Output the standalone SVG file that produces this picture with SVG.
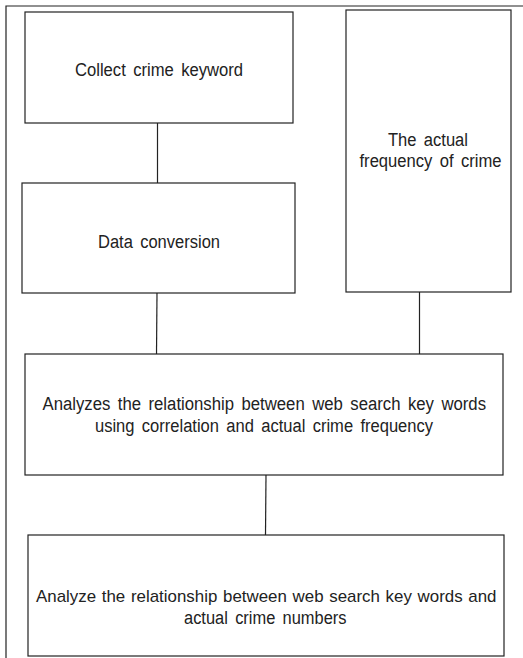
<svg xmlns="http://www.w3.org/2000/svg" width="523" height="658" viewBox="0 0 523 658">
<style>
.box{fill:#fff;stroke:#222;stroke-width:1.2}
.ln{stroke:#222;stroke-width:1.2;fill:none}
text{font-family:"Liberation Sans",Arial,sans-serif;font-size:18px;fill:#222;word-spacing:3px}
text.fit{font-size:17px;word-spacing:1px}
</style>
<rect width="523" height="658" fill="#fff"/>
<g id="frame"><path class="ln" d="M6,658 V6 H523"/></g>
<g id="connectors">
<line class="ln" x1="157.5" y1="123" x2="157.5" y2="183"/>
<line class="ln" x1="157" y1="293" x2="156.5" y2="354"/>
<line class="ln" x1="419.5" y1="292" x2="419.5" y2="354"/>
<line class="ln" x1="266" y1="475" x2="265.5" y2="535"/>
</g>
<g id="n1"><rect class="box" x="25" y="12" width="268" height="111"/>
<text x="75" y="76" textLength="168" lengthAdjust="spacingAndGlyphs">Collect crime keyword</text></g>
<g id="n2"><rect class="box" x="22" y="183" width="273" height="110"/>
<text x="98" y="248" textLength="122" lengthAdjust="spacingAndGlyphs">Data conversion</text></g>
<g id="n3"><rect class="box" x="346" y="10" width="165" height="282"/>
<text x="388" y="146" textLength="80" lengthAdjust="spacingAndGlyphs">The actual</text>
<text x="359.5" y="167" textLength="142" lengthAdjust="spacingAndGlyphs">frequency of crime</text></g>
<g id="n4"><rect class="box" x="25" y="354" width="478" height="121"/>
<text x="42.5" y="410" textLength="443.5" lengthAdjust="spacingAndGlyphs">Analyzes the relationship between web search key words</text>
<text x="95" y="432" textLength="338" lengthAdjust="spacingAndGlyphs">using correlation and actual crime frequency</text></g>
<g id="n5"><rect class="box" x="28" y="535" width="476" height="121"/>
<text class="fit" x="36" y="602" textLength="460.5" lengthAdjust="spacingAndGlyphs">Analyze the relationship between web search key words and</text>
<text x="184" y="624" textLength="162.5" lengthAdjust="spacingAndGlyphs">actual crime numbers</text></g>
</svg>
